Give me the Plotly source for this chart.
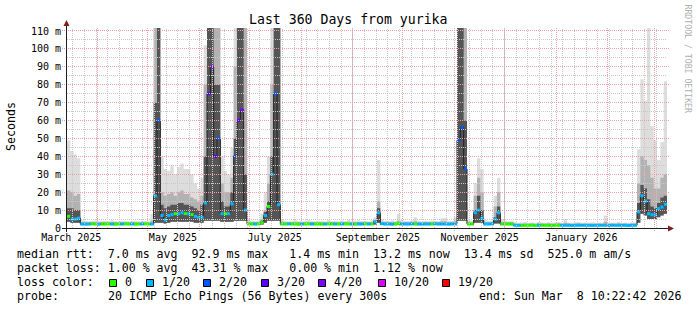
import pandas as pd
import plotly.graph_objects as go

# ---------------- data ----------------
START = "2025-03-13 10:22:42"
END = "2026-03-08 10:22:42"

# median RTT per 2-day bin (ms)
median_ms = [
    6.5, 5.0, 5.0, 5.5, 2.2, 2.1, 2.2, 2.3, 2.2, 2.1,
    2.2, 2.2, 2.3, 2.2, 2.1, 2.2, 2.2, 2.3, 2.2, 2.2,
    2.1, 2.2, 2.2, 2.3, 2.2, 2.2, 18.0, 60.0, 7.0, 4.5,
    7.0, 7.5, 8.0, 8.0, 8.5, 8.0, 8.0, 7.5, 6.5, 6.0,
    6.0, 14.0, 75.0, 90.0, 40.0, 50.0, 8.0, 8.0, 8.0, 13.5,
    40.0, 60.0, 66.0, 10.0, 2.3, 2.2, 2.2, 2.3, 3.0, 7.0,
    12.0, 30.0, 75.0, 13.0, 2.2, 2.2, 2.3, 2.2, 2.2, 2.1,
    2.2, 2.2, 2.3, 2.2, 2.2, 2.2, 2.1, 2.2, 2.3, 2.2,
    2.2, 2.2, 2.2, 2.3, 2.2, 2.2, 2.1, 2.2, 2.2, 2.3,
    2.2, 2.2, 3.5, 8.5, 2.4, 2.2, 2.2, 2.1, 2.2, 2.6,
    2.2, 2.2, 2.2, 2.3, 2.2, 2.2, 2.1, 2.2, 2.2, 2.2,
    2.3, 2.2, 2.2, 2.2, 2.1, 2.2, 2.3, 49.0, 56.0, 33.0,
    2.2, 2.2, 8.5, 10.0, 5.5, 2.2, 2.2, 2.3, 5.0, 8.5,
    2.2, 2.2, 2.2, 2.1, 1.5, 1.5, 1.4, 1.5, 1.5, 1.5,
    1.4, 1.5, 1.5, 1.5, 1.5, 1.4, 1.5, 1.5, 1.5, 1.5,
    1.5, 1.4, 1.5, 1.5, 1.5, 1.5, 1.5, 1.4, 1.5, 1.5,
    1.5, 1.5, 1.4, 1.5, 1.5, 1.5, 1.5, 1.5, 1.4, 1.5,
    1.5, 9.0, 18.0, 15.0, 8.0, 7.4, 7.4, 10.8, 11.7, 13.2,
]

# loss class per bin (index into loss_labels)
loss_idx = [
    0, 1, 1, 1, 1, 1, 1, 0, 0, 1,
    0, 0, 0, 1, 0, 0, 1, 0, 0, 1,
    0, 0, 1, 0, 0, 1, 1, 2, 1, 1,
    1, 1, 0, 1, 1, 0, 1, 0, 1, 1,
    1, 1, 3, 4, 3, 2, 1, 0, 1, 1,
    2, 3, 4, 1, 0, 0, 1, 0, 0, 1,
    0, 1, 2, 1, 0, 0, 1, 0, 0, 0,
    1, 0, 0, 1, 0, 0, 0, 1, 0, 0,
    1, 0, 1, 0, 0, 1, 0, 1, 1, 0,
    1, 0, 1, 1, 1, 1, 1, 1, 0, 0,
    1, 1, 1, 1, 0, 1, 1, 1, 1, 0,
    1, 1, 1, 1, 1, 1, 1, 2, 2, 2,
    0, 0, 1, 1, 1, 1, 1, 1, 1, 1,
    0, 0, 0, 0, 1, 1, 0, 0, 0, 0,
    0, 1, 0, 0, 0, 0, 0, 0, 1, 1,
    1, 1, 1, 1, 1, 1, 1, 1, 1, 1,
    1, 1, 1, 1, 1, 1, 1, 1, 1, 1,
    1, 1, 1, 1, 1, 1, 1, 1, 1, 1,
]

# smoke: bottom of the ping spread (ms)
smoke_low = [
    3.5, 3.0, 3.0, 3.0, 1.7, 1.7, 1.7, 1.7, 1.7, 1.7,
    1.7, 1.7, 1.7, 1.7, 1.7, 1.7, 1.7, 1.7, 1.7, 1.7,
    1.7, 1.7, 1.7, 1.7, 1.7, 1.7, 3.0, 3.0, 3.0, 2.5,
    3.0, 3.5, 3.5, 3.5, 3.5, 3.5, 3.5, 3.5, 3.0, 3.0,
    3.0, 4.0, 4.0, 4.0, 4.0, 4.0, 3.5, 3.5, 3.5, 3.5,
    4.0, 4.0, 4.0, 4.0, 1.7, 1.7, 1.7, 1.7, 2.0, 3.0,
    4.0, 4.0, 4.0, 4.0, 1.7, 1.7, 1.7, 1.7, 1.7, 1.7,
    1.7, 1.7, 1.7, 1.7, 1.7, 1.7, 1.7, 1.7, 1.7, 1.7,
    1.7, 1.7, 1.7, 1.7, 1.7, 1.7, 1.7, 1.7, 1.7, 1.7,
    1.7, 1.7, 2.0, 3.0, 1.7, 1.7, 1.7, 1.7, 1.7, 1.7,
    1.7, 1.7, 1.7, 1.7, 1.7, 1.7, 1.7, 1.7, 1.7, 1.7,
    1.7, 1.7, 1.7, 1.7, 1.7, 1.7, 1.7, 4.0, 4.0, 4.0,
    1.7, 1.7, 3.0, 3.0, 3.0, 1.7, 1.7, 1.7, 2.5, 2.5,
    1.7, 1.7, 1.7, 1.7, 1.1, 1.1, 1.1, 1.1, 1.1, 1.1,
    1.1, 1.1, 1.1, 1.1, 1.1, 1.1, 1.1, 1.1, 1.1, 1.1,
    1.1, 1.1, 1.1, 1.1, 1.1, 1.1, 1.1, 1.1, 1.1, 1.1,
    1.1, 1.1, 1.1, 1.1, 1.1, 1.1, 1.1, 1.1, 1.1, 1.1,
    1.1, 3.0, 8.0, 7.0, 5.0, 5.0, 5.0, 6.0, 7.0, 8.0,
]

# smoke: top of dense (dark) core
smoke_core = [
    11, 11, 10, 10, 2.8, 2.8, 2.8, 2.8, 2.8, 2.8,
    2.8, 2.8, 2.8, 2.8, 2.8, 2.8, 2.8, 2.8, 2.8, 2.8,
    2.8, 2.8, 2.8, 2.8, 2.8, 2.8, 70, 112, 13, 11,
    12, 13, 13, 14, 14, 13, 13, 12, 11, 10,
    13, 40, 112, 112, 80, 80, 15, 12, 12, 20,
    50, 112, 112, 30, 2.8, 2.8, 2.8, 2.8, 4, 9,
    15, 40, 112, 112, 2.8, 2.8, 2.8, 2.8, 2.8, 2.8,
    2.8, 2.8, 2.8, 2.8, 2.8, 2.8, 2.8, 2.8, 2.8, 2.8,
    2.8, 2.8, 2.8, 2.8, 2.8, 2.8, 2.8, 2.8, 2.8, 2.8,
    2.8, 2.8, 4, 11, 2.8, 2.8, 2.8, 2.8, 2.8, 3.0,
    2.8, 2.8, 2.8, 2.8, 2.8, 2.8, 2.8, 2.8, 2.8, 2.8,
    2.8, 2.8, 2.8, 2.8, 2.8, 2.8, 2.8, 112, 112, 60,
    2.8, 2.8, 10, 18, 10, 2.8, 2.8, 2.8, 6, 12,
    2.8, 2.8, 2.8, 2.8, 2.0, 2.0, 2.0, 2.0, 2.0, 2.0,
    2.0, 2.0, 2.0, 2.0, 2.0, 2.0, 2.0, 2.0, 2.0, 2.0,
    2.0, 2.0, 2.0, 2.0, 2.0, 2.0, 2.0, 2.0, 2.0, 2.0,
    2.0, 2.0, 2.0, 2.0, 2.0, 2.0, 2.0, 2.0, 2.0, 2.0,
    2.0, 14, 24, 22, 16, 12, 11, 14, 17, 18,
]

# smoke: top of medium band
smoke_mid = [
    21, 20, 18, 19, 3.3, 3.3, 3.2, 3.3, 3.4, 3.2,
    3.3, 3.3, 3.2, 3.4, 3.3, 3.2, 3.3, 3.4, 3.2, 3.3,
    3.3, 3.2, 3.4, 3.3, 3.2, 4.0, 112, 112, 20, 18,
    19, 20, 18, 20, 21, 19, 19, 17, 16, 15,
    18, 80, 112, 112, 112, 112, 25, 20, 20, 28,
    90, 112, 112, 112, 3.5, 3.3, 3.3, 3.4, 5.0, 10,
    25, 80, 112, 112, 3.5, 3.3, 3.2, 3.3, 3.4, 3.3,
    3.3, 3.3, 3.4, 3.3, 3.2, 3.3, 3.3, 3.2, 3.4, 3.3,
    3.3, 3.2, 3.3, 3.3, 3.5, 3.2, 3.3, 3.4, 3.3, 3.3,
    3.2, 3.4, 4.5, 15, 3.5, 3.3, 3.3, 3.4, 3.3, 4.0,
    3.4, 3.3, 3.3, 3.4, 3.8, 3.3, 3.2, 3.3, 3.3, 3.4,
    3.3, 3.3, 3.8, 3.8, 3.3, 3.3, 3.8, 112, 112, 112,
    3.5, 3.3, 18, 28, 20, 3.3, 3.3, 3.3, 12, 20,
    3.5, 3.3, 3.3, 3.3, 2.5, 2.4, 2.5, 2.5, 2.4, 2.5,
    2.4, 2.6, 2.5, 2.4, 2.5, 2.4, 2.5, 2.6, 2.4, 3.0,
    2.5, 2.4, 2.5, 2.6, 2.4, 2.5, 2.4, 2.5, 2.4, 2.5,
    2.4, 3.5, 2.5, 2.5, 2.4, 2.6, 2.4, 2.5, 2.4, 2.5,
    2.5, 25, 40, 38, 35, 28, 22, 22, 28, 30,
]

# smoke: top of the light outer band
smoke_top = [
    49, 43, 41, 39, 4.5, 4.0, 3.8, 3.9, 4.2, 3.8,
    3.9, 4.0, 3.8, 4.3, 3.9, 3.8, 4.0, 4.1, 3.8, 3.9,
    4.0, 3.8, 4.2, 3.9, 3.8, 8.0, 112, 112, 40, 33,
    32, 35, 30, 34, 36, 33, 33, 30, 25, 22,
    28, 102, 112, 112, 112, 112, 40, 32, 30, 45,
    112, 112, 112, 112, 5.0, 4.0, 3.9, 4.2, 8.0, 20,
    40, 112, 112, 112, 5.0, 4.0, 3.8, 4.0, 4.3, 3.9,
    3.8, 4.0, 4.5, 3.9, 3.8, 4.0, 4.1, 3.8, 4.4, 3.9,
    4.0, 3.8, 4.2, 3.9, 4.6, 3.8, 4.0, 4.3, 3.9, 4.0,
    3.8, 4.2, 6.0, 38, 5.0, 4.0, 3.9, 4.2, 4.0, 8.0,
    4.5, 4.0, 3.9, 4.3, 6.0, 4.0, 3.8, 4.1, 3.9, 4.2,
    4.0, 3.9, 5.5, 5.5, 4.0, 3.9, 6.0, 112, 112, 112,
    5.0, 4.0, 25, 39, 33, 4.5, 4.0, 4.2, 18, 28,
    5.0, 4.0, 3.8, 4.0, 3.2, 3.0, 3.1, 3.3, 3.0, 3.2,
    3.0, 3.4, 3.1, 3.0, 3.2, 3.0, 3.1, 3.3, 3.0, 5.0,
    3.1, 3.0, 3.2, 3.4, 3.0, 3.1, 3.0, 3.2, 3.0, 3.1,
    3.0, 7.0, 3.0, 3.1, 3.0, 3.3, 3.0, 3.1, 3.0, 3.2,
    3.1, 44, 83, 71, 112, 57, 49, 38, 48, 82,
]

loss_labels = ["0", "1/20", "2/20", "3/20", "4/20", "10/20", "19/20"]
loss_colors = ["#26ff00", "#00b8ff", "#0059ff", "#5e00ff", "#7e00ff", "#dd00ff", "#ff0000"]

y_tickvals = [0, 10, 20, 30, 40, 50, 60, 70, 80, 90, 100, 110]
y_ticktext = ["0", "10 m", "20 m", "30 m", "40 m", "50 m", "60 m",
              "70 m", "80 m", "90 m", "100 m", "110 m"]
x_label_dates = ["2025-03-16", "2025-05-16", "2025-07-16",
                 "2025-09-16", "2025-11-16", "2026-01-16"]
x_label_text = ["March 2025", "May 2025", "July 2025",
                "September 2025", "November 2025", "January 2026"]
month_starts = ["2025-04-01", "2025-05-01", "2025-06-01", "2025-07-01",
                "2025-08-01", "2025-09-01", "2025-10-01", "2025-11-01",
                "2025-12-01", "2026-01-01", "2026-02-01", "2026-03-01"]

title_text = "Last 360 Days from yurika"
legend_lines = [
    "median rtt:  7.0 ms avg  92.9 ms max   1.4 ms min  13.2 ms now  13.4 ms sd  525.0 m am/s",
    "packet loss: 1.00 % avg  43.31 % max   0.00 % min  1.12 % now",
]
probe_text = "20 ICMP Echo Pings (56 Bytes) every 300s"
end_text = "end: Sun Mar  8 10:22:42 2026"

# ---------------- geometry helpers ----------------
W, H = 697, 310
L, T, PW, PH = 67, 28, 600, 200
YMAX = 200 / (197 / 110)
T0 = pd.Timestamp(START)
SPAN = pd.Timestamp(END) - T0

def px(x):
    return (x - L) / PW

def py(y):
    return (T + PH - y) / PH

def date_px(d):
    return L + PW * ((pd.Timestamp(d) - T0) / SPAN)

def val_py(v):
    return T + PH - PH * v / YMAX

def snap(p):
    return int(p) + 0.5

FONT = "DejaVu Sans Mono"
nbsp = lambda s: s.replace(" ", "\u00a0")

edges = pd.date_range(START, periods=len(median_ms) + 1, freq="2D")
ext = lambda v: list(v) + [v[-1]]

fig = go.Figure()

# smoke layers
for top_vals, color in [(smoke_top, "#dddddd"), (smoke_mid, "#b2b2b2"), (smoke_core, "#555555")]:
    fig.add_trace(go.Scatter(x=edges, y=ext(smoke_low), mode="lines",
                             line=dict(width=0, shape="hv"), hoverinfo="skip"))
    fig.add_trace(go.Scatter(x=edges, y=ext(top_vals), mode="lines",
                             line=dict(width=0, shape="hv"), fill="tonexty",
                             fillcolor=color, hoverinfo="skip"))

# median line
fig.add_trace(go.Scatter(x=edges, y=ext(median_ms), mode="lines",
                         line=dict(width=1, color="#202020", shape="hv"), hoverinfo="skip"))

# loss-coloured median segments
for k, col in enumerate(loss_colors):
    xs, ys = [], []
    for i, m in enumerate(median_ms):
        if loss_idx[i] == k:
            xs += [edges[i], edges[i + 1], None]
            ys += [m, m, None]
    if xs:
        fig.add_trace(go.Scatter(x=xs, y=ys, mode="lines",
                                 line=dict(width=3, color=col), hoverinfo="skip"))

shapes = []
GRAY = "rgb(200,200,200)"
RED = "rgb(238,160,160)"
DASH = "1px,1px"

def vline(xp, y0p, y1p, color):
    shapes.append(dict(type="line", xref="paper", yref="paper", x0=px(xp), x1=px(xp),
                       y0=py(y0p), y1=py(y1p), line=dict(color=color, width=1, dash=DASH),
                       layer="above"))

def hline(yp, x0p, x1p, color):
    shapes.append(dict(type="line", xref="paper", yref="paper", x0=px(x0p), x1=px(x1p),
                       y0=py(yp), y1=py(yp), line=dict(color=color, width=1, dash=DASH),
                       layer="above"))

# minor grid
for d in pd.date_range("2025-03-17", END, freq="7D"):
    vline(snap(date_px(d)), 228, 28, GRAY)
for v in range(5, 111, 10):
    hline(snap(val_py(v)), 67, 667, GRAY)
# major grid
for d in month_starts:
    vline(snap(date_px(d)), 231, 28, RED)
for v in y_tickvals[1:]:
    hline(snap(val_py(v)), 62, 669, RED)

# axes
AX = "rgb(31,31,31)"
shapes.append(dict(type="line", xref="paper", yref="paper", x0=px(66.5), x1=px(66.5),
                   y0=py(232), y1=py(24), line=dict(color=AX, width=1), layer="above"))
shapes.append(dict(type="line", xref="paper", yref="paper", x0=px(62), x1=px(671),
                   y0=py(228.5), y1=py(228.5), line=dict(color=AX, width=1), layer="above"))
ARROW = "rgb(128,31,31)"
shapes.append(dict(type="path", xref="paper", yref="paper",
                   path=f"M {px(63.5)} {py(26)} L {px(69.5)} {py(26)} L {px(66.5)} {py(20)} Z",
                   fillcolor=ARROW, line=dict(width=0), layer="above"))
shapes.append(dict(type="path", xref="paper", yref="paper",
                   path=f"M {px(668)} {py(225.5)} L {px(668)} {py(231.5)} L {px(674)} {py(228.5)} Z",
                   fillcolor=ARROW, line=dict(width=0), layer="above"))

# loss colour swatches
swatch_x = [109, 146, 203.3, 261, 318.3, 377.7, 442.3]
for sx, col in zip(swatch_x, loss_colors):
    sx = round(sx)
    shapes.append(dict(type="rect", xref="paper", yref="paper",
                       x0=px(sx + 0.5), x1=px(sx + 7.5), y0=py(286.5), y1=py(279.5),
                       fillcolor=col, line=dict(color="black", width=1)))

annotations = []

def text(x, baseline, s, size, anchor="left", color="black"):
    annotations.append(dict(xref="paper", yref="paper", x=px(x), y=py(baseline - 0.36 * size),
                            xanchor=anchor, yanchor="middle", text=nbsp(s), showarrow=False,
                            borderpad=0, font=dict(family=FONT, size=size, color=color)))

LS = 11.6
text(348, 24, title_text, 13.2, anchor="center")
text(16, 258, legend_lines[0], LS)
text(16, 272, legend_lines[1], LS)
text(16, 286, "loss color:", LS)
for sx, lab in zip(swatch_x, loss_labels):
    text(sx + 15, 286, lab, LS)
text(16, 300, "probe:", LS)
text(107.3, 300, probe_text, LS)
text(478.3, 300, end_text, LS)

annotations.append(dict(xref="paper", yref="paper", x=px(11), y=py(127), text="Seconds",
                        textangle=-90, showarrow=False, borderpad=0,
                        xanchor="center", yanchor="middle",
                        font=dict(family=FONT, size=LS, color="black")))
annotations.append(dict(xref="paper", yref="paper", x=px(687.5), y=py(59),
                        text=nbsp("RRDTOOL / TOBI OETIKER"), textangle=90, showarrow=False,
                        borderpad=0, xanchor="center", yanchor="middle",
                        font=dict(family=FONT, size=8.2, color="rgb(175,175,175)")))

fig.update_layout(
    width=W, height=H,
    margin=dict(l=L, r=W - L - PW, t=T, b=H - T - PH, pad=0),
    paper_bgcolor="white", plot_bgcolor="white",
    showlegend=False,
    shapes=shapes, annotations=annotations,
    xaxis=dict(type="date", range=[START, END], showgrid=False, zeroline=False,
               showline=False, ticks="", tickvals=x_label_dates, ticktext=x_label_text,
               tickfont=dict(family=FONT, size=10, color="black"), ticklabelstandoff=2),
    yaxis=dict(range=[0, YMAX], showgrid=False, zeroline=False, showline=False, ticks="",
               tickvals=y_tickvals, ticktext=y_ticktext,
               tickfont=dict(family=FONT, size=10, color="black"), ticklabelstandoff=5),
)

fig.write_html("out.html")
